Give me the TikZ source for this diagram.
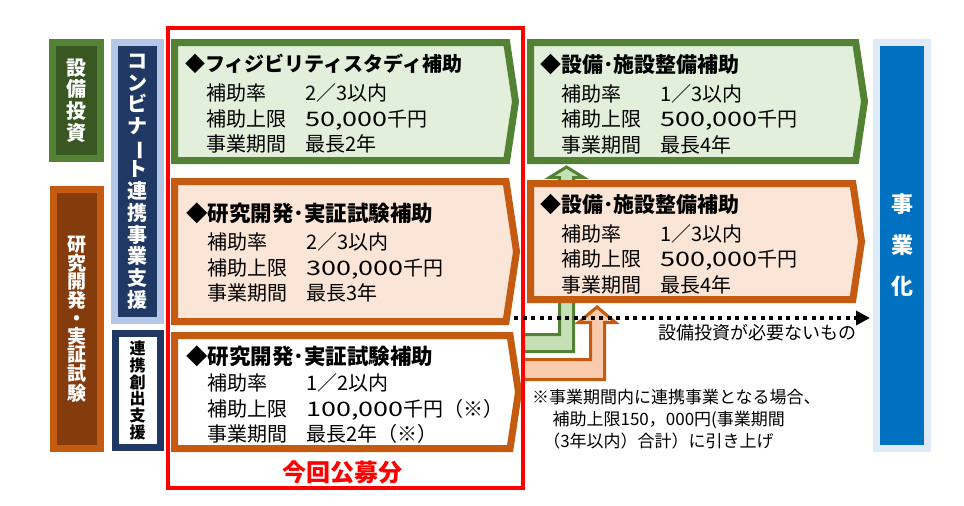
\documentclass[tikz,border=0pt]{standalone}
\usepackage{fontspec}
\usepackage{graphicx}
\setmainfont{Noto Sans CJK JP}
\newfontfamily\widefont{Noto Sans CJK JP}[FakeStretch=1.35]
\usetikzlibrary{positioning, shapes.symbols, arrows.meta}

\definecolor{invgreen}{HTML}{548235}
\definecolor{invdark}{HTML}{385723}
\definecolor{invlight}{HTML}{E2EFDA}
\definecolor{invarrow}{HTML}{C5E0B4}
\definecolor{rdorange}{HTML}{C55A11}
\definecolor{rddark}{HTML}{843C0C}
\definecolor{rdlight}{HTML}{FBE5D6}
\definecolor{rdarrow}{HTML}{F8CBAD}
\definecolor{navy}{HTML}{203864}
\definecolor{paleblue}{HTML}{B4C7E7}
\definecolor{bizblue}{HTML}{0070C0}
\definecolor{bizpale}{HTML}{DEEBF7}

\newcommand\grantrow[2]{\hspace*{21pt}\makebox[99pt][l]{#1}#2}
\newcommand\widenum[1]{{\widefont #1}}

\tikzset{%
side label/.style={
    rectangle, line width=7pt,
    inner sep=0pt, outer sep=0pt,
    align=center, text=white,
    font=\bfseries\fontsize{20}{21.7}\selectfont
},
grant box/.style={
    signal, signal to=east, signal pointer angle=163,
    line width=7pt, inner sep=0pt, outer sep=0pt,
    anchor=west
},
grant text/.style={
    anchor=north west, inner sep=0pt, align=left,
    font=\fontsize{20}{25.5}\selectfont
},
elbow/.style={line width=3pt, line join=miter},
dotted arrow/.style={
    line width=4pt, dash pattern=on 4pt off 4.5pt,
    -{Triangle[length=14pt,width=14pt]}, shorten >=6.5pt
},
}

\begin{document}
\begin{tikzpicture}[x=1pt, y=-1pt]
\useasboundingbox [fill=white] (0,0) rectangle (964,506);

% elbow arrows (behind the boxes)
\filldraw[elbow, fill=invarrow, draw=invgreen] (522,334.5) -- (559.5,334.5) -- (559.5,177.5) -- (549.5,177.5)
    -- (566.5,167) -- (583.5,177.5) -- (573.5,177.5) -- (573.5,351.5) -- (522,351.5);
\filldraw[elbow, fill=rdarrow, draw=rdorange] (522,359.5) -- (590.5,359.5) -- (590.5,322.5) -- (578.5,322.5)
    -- (597,307) -- (615.5,322.5) -- (604.5,322.5) -- (604.5,379.5) -- (522,379.5);

% left labels
\node[side label, fill=invdark, draw=invgreen, minimum width=48, minimum height=116] (invest) at (76.5,100.5) {設\\備\\投\\資};
\node[side label, fill=rddark, draw=rdorange, minimum width=47, minimum height=259,
      font=\bfseries\fontsize{19}{18}\selectfont, below=31pt of invest] (rnd) {研\\究\\開\\発\\・\\実\\証\\試\\験};
\node[side label, fill=navy, draw=paleblue, minimum width=46, minimum height=278] (combi) at (137.5,181.5)
    {コ\\ン\\ビ\\ナ\\\rotatebox[origin=c]{-90}{ー}\\ト\\連\\携\\事\\業\\支\\援};
\node[side label, fill=white, draw=navy, text=black, minimum width=45, minimum height=114,
      font=\bfseries\fontsize{16}{16.7}\selectfont, below=13pt of combi] (create) {連\\携\\創\\出\\支\\援};

% grant boxes
\node[grant box, fill=invlight, draw=invgreen, minimum width=341, minimum height=118] (feas) at (174.5,101.5) {};
\node[grant box, fill=rdlight, draw=rdorange, minimum width=342, minimum height=140] (rd-main) at (174.5,251.5) {};
\node[grant box, fill=white, draw=rdorange, minimum width=344, minimum height=113] (rd-link) at (174.5,392) {};
\node[grant box, fill=invlight, draw=invgreen, minimum width=334, minimum height=118] (equip-g) at (530.5,101.5) {};
\node[grant box, fill=rdlight, draw=rdorange, minimum width=331, minimum height=116] (equip-o) at (530.5,241.5) {};

\node[grant text] (feas-text) at (185,54.2) {{\bfseries ◆フィジビリティスタディ補助}\\[3.5pt]
    \grantrow{補助率}{2／3以内}\\
    \grantrow{補助上限}{\widenum{50,000}千円}\\
    \grantrow{事業期間}{最長2年}};
\node[grant text] (rd-main-text) at (186,202.3) {{\bfseries\fontsize{21.5}{25.5}\selectfont ◆研究開発･実証試験補助}\\[3pt]
    \grantrow{補助率}{2／3以内}\\
    \grantrow{補助上限}{\widenum{300,000}千円}\\
    \grantrow{事業期間}{最長3年}};
\node[grant text] (rd-link-text) at (186,345.3) {{\bfseries\fontsize{21.5}{25.5}\selectfont ◆研究開発･実証試験補助}\\[1pt]
    \grantrow{補助率}{1／2以内}\\
    \grantrow{補助上限}{\widenum{100,000}千円（※）}\\
    \grantrow{事業期間}{最長2年（※）}};
\node[grant text] (equip-g-text) at (540,54.2) {{\bfseries\fontsize{21}{25.5}\selectfont ◆設備･施設整備補助}\\[3pt]
    \grantrow{補助率}{1／3以内}\\
    \grantrow{補助上限}{\widenum{500,000}千円}\\
    \grantrow{事業期間}{最長4年}};
\node[grant text] (equip-o-text) at (540,194.2) {{\bfseries\fontsize{21}{25.5}\selectfont ◆設備･施設整備補助}\\[3pt]
    \grantrow{補助率}{1／3以内}\\
    \grantrow{補助上限}{\widenum{500,000}千円}\\
    \grantrow{事業期間}{最長4年}};

% this round's call
\node[draw=red, line width=4.5pt, minimum width=355, minimum height=460, inner sep=0pt, outer sep=0pt] (offer) at (345.5,258) {};
\node[text=red, font=\bfseries\fontsize{24}{24}\selectfont, inner sep=0pt] (offer-label) at (342.5,472) {今回公募分};

% commercialisation
\node[side label, fill=bizblue, draw=bizpale, minimum width=51, minimum height=406,
      font=\bfseries\fontsize{22}{41}\selectfont] (biz) at (902,245.5) {事\\業\\化};

\coordinate (bypass) at (514,318);
\draw[dotted arrow] (bypass) -- (bypass -| biz.west);
\node[font=\fontsize{18}{18}\selectfont, anchor=east, inner sep=0pt] (bypass-label) at (857,333) {設備投資が必要ないもの};

\node[grant text, font=\fontsize{17}{22}\selectfont] (note) at (532,389) {※事業期間内に連携事業となる場合、\\
    \hspace*{1.2em}補助上限150，000円(事業期間\\
    \hspace*{0.65em}（3年以内）合計）に引き上げ};
\end{tikzpicture}
\end{document}
